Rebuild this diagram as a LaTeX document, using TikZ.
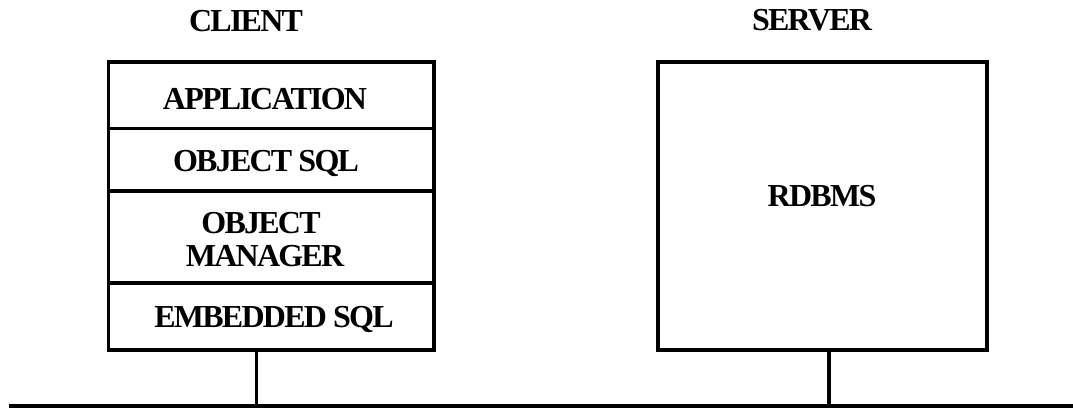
\documentclass[tikz,border=0pt]{standalone}
\usepackage{fontspec}
\newfontfamily\diagfont{Liberation Serif}[LetterSpace=-5.5]
\begin{document}
\begin{tikzpicture}[x=1pt,y=-1pt,
  box/.style={draw,line width=3.2pt,rectangle,inner sep=0pt,outer sep=0pt},
  lbl/.style={anchor=base,inner sep=0pt,font=\diagfont\bfseries\fontsize{32}{33}\selectfont},
  wire/.style={line width=3.2pt}]
\useasboundingbox (0,0) rectangle (1073,408);
% titles
\node[lbl] (client) at (246,31) {CLIENT};
\node[lbl] (server) at (812,30) {SERVER};
% client stack
\node[box,minimum width=325.5pt,minimum height=66.4pt] (app) at (271.25,95.2) {};
\node[box,minimum width=325.5pt,minimum height=62.6pt] (osql) at (271.25,159.7) {};
\node[box,minimum width=325.5pt,minimum height=92pt] (om) at (271.25,237) {};
\node[box,minimum width=325.5pt,minimum height=67pt] (esql) at (271.25,316.5) {};
\node[lbl] (tapp) at (265,109) {APPLICATION};
\node[lbl] (tosql) at (266,171) {OBJECT SQL};
\node[lbl] (tobj) at (261,233) {OBJECT};
\node[lbl] (tman) at (265,266) {MANAGER};
\node[lbl] (tesql) at (274,327) {EMBEDDED SQL};
% server
\node[box,minimum width=329pt,minimum height=288pt] (srv) at (822.5,206) {};
\node[lbl] (rdbms) at (822,206) {RDBMS};
% network
\coordinate (busL) at (9,406);
\coordinate (busR) at (1073,406);
\coordinate (cdrop) at (256.5,406);
\coordinate (sdrop) at (829,406);
\draw[wire] (busL) -- (busR);
\draw[wire] (cdrop |- esql.south) -- (cdrop);
\draw[wire] (sdrop |- srv.south) -- (sdrop);
\end{tikzpicture}
\end{document}
